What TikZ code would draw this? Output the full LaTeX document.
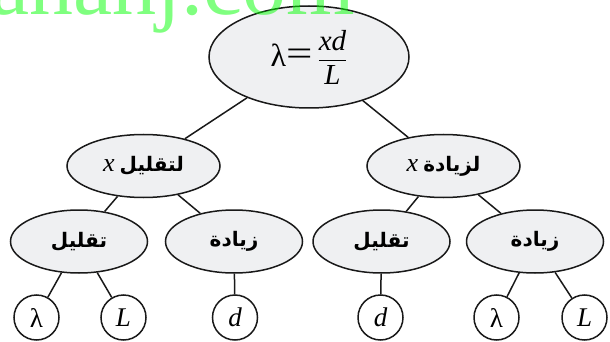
\documentclass[tikz,border=0pt]{standalone}
\usepackage{amsmath}
\usepackage{graphicx}
\usepackage{fontspec}
\setmainfont{Liberation Serif}
\newfontfamily\arabicfont[Script=Arabic]{DejaVu Sans}
\TeXXeTstate=1
\usetikzlibrary{shapes.geometric}
\definecolor{nodefill}{HTML}{EFF0F2}
\tikzset{
  box/.style={ellipse, draw=black!90, line width=1.5pt, fill=nodefill, inner sep=0pt},
  topbox/.style={box, minimum width=200pt, minimum height=102pt},
  midbox/.style={box, minimum width=153pt, minimum height=63pt},
  lowbox/.style={box, minimum width=137pt, minimum height=63pt},
  leaf/.style={circle, draw=black!90, line width=1.5pt, fill=white, inner sep=0pt, minimum size=45pt, font=\fontsize{27}{29}\selectfont\itshape},
  link/.style={draw=black!90, line width=1.5pt},
  ar/.style={font=\fontsize{20}{24}\selectfont}
}
\newcommand{\arw}[1]{{\arabicfont\bfseries #1}}
\begin{document}
\begin{tikzpicture}[x=1pt,y=-1pt]
\useasboundingbox (0,0) rectangle (610,342);
% nodes
\node[topbox] (t) at (309,57) {\fontsize{32}{34}\selectfont λ\raisebox{1pt}{\scalebox{1.3}[1]{\fontsize{36}{38}\selectfont =}}\hspace{5pt}{\fontsize{29}{32}\selectfont$\dfrac{\textit{xd}}{\textit{L}}$}};
\node[midbox,ar] (l) at (143.5,166) {\beginR\arw{لتقليل} {\fontsize{26}{28}\selectfont\itshape x}\endR};
\node[midbox,ar] (r) at (443.5,166) {\beginR\arw{لزيادة} {\fontsize{26}{28}\selectfont\itshape x}\endR};
\node[lowbox,ar] (ll) at (79,241.5) {\beginR\arw{تقليل}\endR};
\node[lowbox,ar] (lr) at (234,241.5) {\beginR\arw{زيادة}\endR};
\node[lowbox,ar] (rl) at (381.5,241.5) {\beginR\arw{تقليل}\endR};
\node[lowbox,ar] (rr) at (535,241.5) {\beginR\arw{زيادة}\endR};
\node[leaf] (c1) at (36.5,317.5) {\upshape λ};
\node[leaf] (c2) at (123.5,317.5) {L};
\node[leaf] (c3) at (235,317.5) {d};
\node[leaf] (c4) at (380.5,317.5) {d};
\node[leaf] (c5) at (496.5,317.5) {\upshape λ};
\node[leaf] (c6) at (584.5,317.5) {L};
% connectors
\path[link] (t) -- (l) (t) -- (r)
  (l) -- (ll) (l) -- (lr) (r) -- (rl) (r) -- (rr)
  (ll) -- (c1) (ll) -- (c2) (lr) -- (c3) (rl) -- (c4) (rr) -- (c5) (rr) -- (c6);
% watermark
\begin{scope}
\clip (0,0) rectangle (610,342);
\node[anchor=base east, inner sep=0pt, text=green, opacity=0.5, font=\fontsize{88}{90}\selectfont] (wm) at (355,15) {almanahj.com};
\end{scope}
\end{tikzpicture}
\end{document}
